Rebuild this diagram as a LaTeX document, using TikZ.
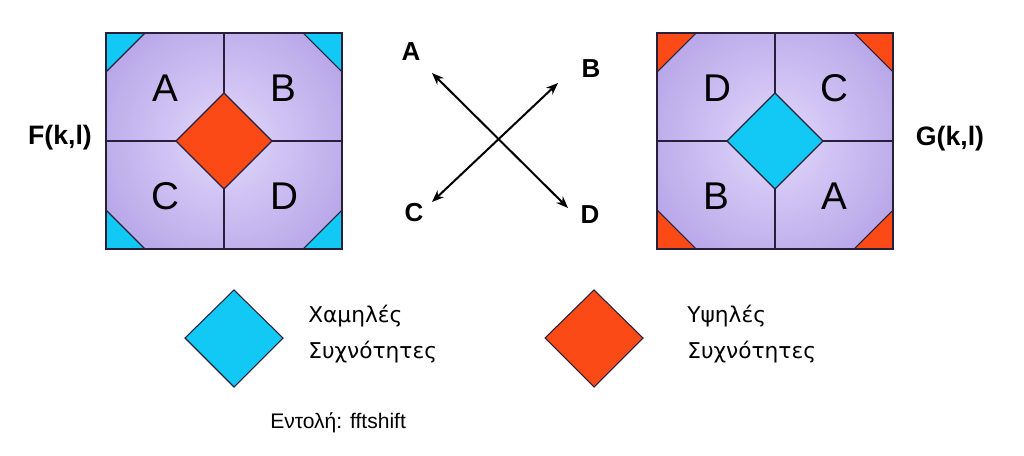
\documentclass[tikz,border=0pt]{standalone}
\usepackage{fontspec}
\setmainfont{Liberation Sans}
\newfontfamily\legendfont{DejaVu Sans}
\usetikzlibrary{arrows.meta}

\definecolor{lav}{RGB}{180,162,230}
\definecolor{lavlight}{RGB}{226,216,252}
\definecolor{lowblue}{RGB}{18,200,245}
\definecolor{highred}{RGB}{252,74,22}
\definecolor{edgecol}{RGB}{40,32,58}

\begin{document}
\begin{tikzpicture}[x=0.75pt,y=-0.75pt,
  glow/.style={inner color=lavlight,outer color=lav},
  gridline/.style={draw=edgecol,line width=1pt},
  corner/.style={draw=edgecol,line width=0.8pt},
  quad/.style={inner sep=0pt,font=\fontsize{29}{32}\selectfont},
  swap/.style={inner sep=0pt,font=\fontsize{19.5}{22}\selectfont\bfseries},
  fname/.style={inner sep=0pt,font=\fontsize{20}{24}\selectfont\bfseries},
  legend/.style={inner sep=0pt,anchor=base west,font=\legendfont\fontsize{16.3}{19}\selectfont},
  dbl/.style={{Stealth[length=9pt,width=7pt]}-{Stealth[length=9pt,width=7pt]},line width=1.5pt}]
\useasboundingbox (0,0) rectangle (1024,456);

% F(k,l)
\fill[lav] (106,33) rectangle (342,249);
\begin{scope}
\clip (106,33) rectangle (342,249);
\shade[glow] (224,141) circle (150);
\end{scope}
\filldraw[fill=lowblue,corner] (106,33) -- (145,33) -- (106,72) -- cycle;
\filldraw[fill=lowblue,corner] (342,33) -- (303,33) -- (342,72) -- cycle;
\filldraw[fill=lowblue,corner] (106,249) -- (145,249) -- (106,210) -- cycle;
\filldraw[fill=lowblue,corner] (342,249) -- (303,249) -- (342,210) -- cycle;
\draw[gridline] (224,33) -- (224,249);
\draw[gridline] (106,141) -- (342,141);
\filldraw[fill=highred,gridline] (224,93) -- (272,141) -- (224,189) -- (176,141) -- cycle;
\draw[gridline] (106,33) rectangle (342,249);
\node[quad] (fA) at (165,88) {A};
\node[quad] (fB) at (283,88) {B};
\node[quad] (fC) at (165,196) {C};
\node[quad] (fD) at (284,196) {D};
\node[fname] (flabel) at (60,138) {F(k,l)};

% G(k,l)
\fill[lav] (657,33) rectangle (893,249);
\begin{scope}
\clip (657,33) rectangle (893,249);
\shade[glow] (775,141) circle (150);
\end{scope}
\filldraw[fill=highred,corner] (657,33) -- (696,33) -- (657,72) -- cycle;
\filldraw[fill=highred,corner] (893,33) -- (854,33) -- (893,72) -- cycle;
\filldraw[fill=highred,corner] (657,249) -- (696,249) -- (657,210) -- cycle;
\filldraw[fill=highred,corner] (893,249) -- (854,249) -- (893,210) -- cycle;
\draw[gridline] (775,33) -- (775,249);
\draw[gridline] (657,141) -- (893,141);
\filldraw[fill=lowblue,gridline] (775,93) -- (823,141) -- (775,189) -- (727,141) -- cycle;
\draw[gridline] (657,33) rectangle (893,249);
\node[quad] (gD) at (717,88) {D};
\node[quad] (gC) at (834,88) {C};
\node[quad] (gB) at (716,196) {B};
\node[quad] (gA) at (834,196) {A};
\node[fname] (glabel) at (950,139) {G(k,l)};

% swap
\node[swap] (mA) at (411,52) {A};
\node[swap] (mB) at (591,69) {B};
\node[swap] (mC) at (414,213) {C};
\node[swap] (mD) at (590,215) {D};
\coordinate (tipA) at (432,73);
\coordinate (tipD) at (568,208);
\coordinate (tipB) at (558,83);
\coordinate (tipC) at (432,202);
\draw[dbl] (tipA) -- (tipD);
\draw[dbl] (tipC) -- (tipB);

% legend
\filldraw[fill=lowblue,corner] (234,290) -- (283,338) -- (234,387) -- (185,338) -- cycle;
\node[legend] (low1) at (308,322) {Χαμηλές};
\node[legend] (low2) at (308,358) {Συχνότητες};
\filldraw[fill=highred,corner] (594,290) -- (643,338) -- (594,387) -- (545,338) -- cycle;
\node[legend] (high1) at (687,322) {Υψηλές};
\node[legend] (high2) at (687,358) {Συχνότητες};
\node[legend,font=\fontsize{15.8}{19}\selectfont] (cmd) at (270,428) {Εντολή: fftshift};
\end{tikzpicture}
\end{document}
